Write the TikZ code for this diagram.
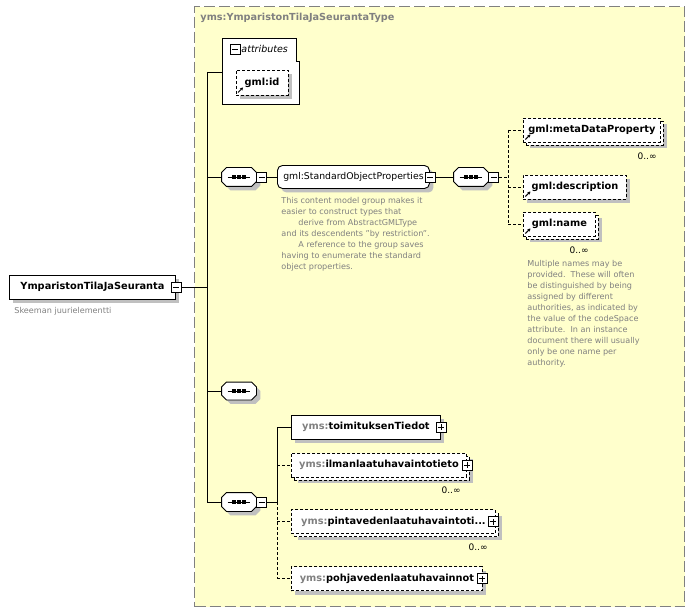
\documentclass[tikz,border=0pt]{standalone}
\usepackage{fontspec}
\setmainfont{DejaVu Sans}
\usetikzlibrary{positioning}
\usetikzlibrary{arrows.meta}
\usetikzlibrary{shadows}
\definecolor{typeyellow}{RGB}{255,255,204}
\definecolor{shadowgray}{RGB}{192,192,192}
\definecolor{framegray}{RGB}{128,128,128}
\definecolor{notegray}{RGB}{128,128,128}
\newcommand{\ymspre}{\textcolor{gray}{yms:}}
\newcommand{\seqshape}[1]{%
	\begin{scope}[transform canvas={shift={(4pt,-4pt)}}]
		\fill[shadowgray] ([xshift=5pt]#1.north west) -- ([xshift=-5pt]#1.north east) -- ([yshift=-5pt]#1.north east) -- ([yshift=5pt]#1.south east) -- ([xshift=-5pt]#1.south east) -- ([xshift=5pt]#1.south west) -- ([yshift=5pt]#1.south west) -- ([yshift=-5pt]#1.north west) -- cycle;
	\end{scope}
	\draw[fill=white] ([xshift=5pt]#1.north west) -- ([xshift=-5pt]#1.north east) -- ([yshift=-5pt]#1.north east) -- ([yshift=5pt]#1.south east) -- ([xshift=-5pt]#1.south east) -- ([xshift=5pt]#1.south west) -- ([yshift=5pt]#1.south west) -- ([yshift=-5pt]#1.north west) -- cycle;
	\draw ([xshift=6pt]#1.west) -- ([xshift=-6pt]#1.east);
	\foreach \d in {-5,0,5}
		\fill ([xshift=\d pt]#1.center) +(-1.6pt,-1.6pt) rectangle +(1.6pt,1.6pt);
}

\begin{document}
\begin{tikzpicture}[x=1pt, y=-1pt, line width=0.9pt]
	\tikzset{
		elemnode/.style={rectangle, draw=black, fill=white, minimum height=24pt, inner sep=0pt, text centered, font=\fontsize{9.8}{12}\selectfont\bfseries, drop shadow={shadow xshift=4pt, shadow yshift=-4pt, opacity=1, fill=shadowgray}},
		optnode/.style={elemnode, dash pattern=on 3pt off 2pt},
		multinode/.style={rectangle, draw=black, fill=white, minimum height=24pt, inner sep=0pt, text centered, font=\fontsize{9.8}{12}\selectfont\bfseries, dash pattern=on 3pt off 2pt, drop shadow={shadow xshift=7pt, shadow yshift=-6pt, opacity=1, fill=shadowgray}, copy shadow={shadow xshift=3pt, shadow yshift=-3pt, draw=black, fill=white, dash pattern=on 3pt off 2pt}},
		groupnode/.style={rectangle, rounded corners=5pt, draw=black, fill=white, minimum height=23pt, inner sep=0pt, text centered, font=\fontsize{9.3}{12}\selectfont, drop shadow={shadow xshift=4pt, shadow yshift=-4pt, opacity=1, fill=shadowgray}},
		seqnode/.style={rectangle, minimum width=34pt, minimum height=18pt, inner sep=0pt},
		minusbox/.style={rectangle, draw=black, fill=white, solid, minimum size=10pt, inner sep=0pt, line width=0.8pt,
			path picture={\draw[solid] ([xshift=2pt]path picture bounding box.west) -- ([xshift=-2pt]path picture bounding box.east);}},
		plusbox/.style={minusbox,
			path picture={\draw[solid] ([xshift=2pt]path picture bounding box.west) -- ([xshift=-2pt]path picture bounding box.east);
				\draw[solid] ([yshift=2pt]path picture bounding box.south) -- ([yshift=-2pt]path picture bounding box.north);}},
		refarrow/.style={path picture={\draw[solid, line width=1pt, -{Stealth[length=3pt, width=3.5pt]}] ([shift={(2pt,2.5pt)}]path picture bounding box.south west) -- ++(5pt,5pt);}},
		notetext/.style={inner sep=0pt, align=left, text=notegray, font=\fontsize{8.1}{11}\selectfont},
		countnode/.style={inner sep=0pt, font=\fontsize{9}{10}\selectfont},
		typebox/.style={rectangle, draw=framegray, fill=typeyellow, line width=1.2pt, dash pattern=on 11pt off 4pt},
		dashline/.style={dash pattern=on 3pt off 2pt},
	}
	\useasboundingbox (0,0) rectangle (693,612);

	\node[typebox, anchor=north west, minimum width=490pt, minimum height=600pt] (ymstype) at (194,6) {};
	\node[anchor=west, inner sep=0pt, text=framegray, font=\fontsize{9.7}{12}\selectfont\bfseries] (typename) at (200,18) {yms:YmparistonTilaJaSeurantaType};

	\node[elemnode, minimum width=166pt, anchor=west] (root) at (9,287) {YmparistonTilaJaSeuranta};
	\node[minusbox] (rootminus) at (root.east) {};
	\node[notetext, anchor=west] (rootnote) at (14,311) {Skeeman juurielementti};

	\draw[fill=white] (222,38) -- (296,38) -- (296,61) -- (299,61) -- (299,104) -- (222,104) -- cycle;
	\node[minusbox] (attrminus) at (235,49) {};
	\node[anchor=west, inner sep=0pt, font=\fontsize{9.5}{12}\selectfont\itshape] (attrlabel) at (241,49) {attributes};
	\coordinate (attrs) at (222,72);
	\node[optnode, refarrow, minimum width=52pt, minimum height=25pt] (gmlid) at (262,82.5) {gml:id};

	\coordinate (spinetop) at (207,72);

	\node[seqnode] (seq1) at (239,177) {};
	\seqshape{seq1}
	\node[minusbox, right=0pt of seq1] (seq1minus) {};
	\node[groupnode, minimum width=152pt, anchor=west] (sop) at (277,177) {gml:StandardObjectProperties};
	\node[minusbox] (sopminus) at (sop.east) {};
	\node[notetext, anchor=north west] (sopnote) at (281,197) {This content model group makes it\\easier to construct types that\\\hspace*{17pt}derive from AbstractGMLType\\and its descendents "by restriction".\\\hspace*{17pt}A reference to the group saves\\having to enumerate the standard\\object properties.};
	\node[seqnode] (seq2) at (471,177) {};
	\seqshape{seq2}
	\node[minusbox, right=0pt of seq2] (seq2minus) {};
	\coordinate (seq2fork) at (508,177);

	\node[multinode, refarrow, minimum width=137pt, anchor=west] (meta) at (523,130) {gml:metaDataProperty};
	\node[countnode, anchor=east] (metacount) at (657,156) {0..∞};
	\node[optnode, refarrow, minimum width=103pt, anchor=west] (desc) at (523,187) {gml:description};
	\node[multinode, refarrow, minimum width=72pt, anchor=west] (name) at (523,224) {gml:name};
	\node[countnode, anchor=east] (namecount) at (589,250) {0..∞};
	\node[notetext, anchor=north west] (namenote) at (527,260) {Multiple names may be\\provided.\ \ These will often\\be distinguished by being\\assigned by different\\authorities, as indicated by\\the value of the codeSpace\\attribute.\ \ In an instance\\document there will usually\\only be one name per\\authority.};

	\node[seqnode, minimum height=17pt] (seq3) at (239,391) {};
	\seqshape{seq3}

	\node[seqnode] (seq4) at (239,502) {};
	\seqshape{seq4}
	\node[minusbox, right=0pt of seq4] (seq4minus) {};
	\coordinate (seq4fork) at (277,502);

	\node[elemnode, minimum width=149pt, anchor=west] (toim) at (291,427) {\ymspre toimituksenTiedot};
	\node[plusbox] (toimplus) at (toim.east) {};
	\node[multinode, minimum width=175pt, anchor=west] (ilma) at (291,465) {\ymspre ilmanlaatuhavaintotieto};
	\node[plusbox] (ilmaplus) at (ilma.east) {};
	\node[countnode, anchor=east] (ilmacount) at (461,490) {0..∞};
	\node[multinode, minimum width=204pt, anchor=west] (pinta) at (291,521.5) {\ymspre pintavedenlaatuhavaintoti...};
	\node[plusbox] (pintaplus) at ([xshift=-3pt]pinta.east) {};
	\node[countnode, anchor=east] (pintacount) at (488,547) {0..∞};
	\node[optnode, minimum width=191pt, anchor=west] (pohja) at (291,578.5) {\ymspre pohjavedenlaatuhavainnot};
	\node[plusbox] (pohjaplus) at ([xshift=-1pt]pohja.east) {};

	\draw (rootminus.east) -- (rootminus.east -| spinetop);
	\draw (spinetop) -- (seq4.west -| spinetop);
	\draw (spinetop) -- (attrs);
	\draw (seq1.west -| spinetop) -- (seq1.west);
	\draw (seq3.west -| spinetop) -- (seq3.west);
	\draw (seq4.west -| spinetop) -- (seq4.west);

	\draw (seq1minus.east) -- (sop.west);
	\draw (sopminus.east) -- (seq2.west);
	\draw[dashline] (seq2minus.east) -- (seq2fork);
	\draw[dashline] (meta.west -| seq2fork) -- (name.west -| seq2fork);
	\draw[dashline] (meta.west -| seq2fork) -- (meta.west);
	\draw[dashline] (desc.west -| seq2fork) -- (desc.west);
	\draw[dashline] (name.west -| seq2fork) -- (name.west);

	\draw (seq4minus.east) -- (seq4fork);
	\draw (toim.west -| seq4fork) -- (seq4fork);
	\draw[dashline] (seq4fork) -- (pohja.west -| seq4fork);
	\draw (toim.west -| seq4fork) -- (toim.west);
	\draw[dashline] (ilma.west -| seq4fork) -- (ilma.west);
	\draw[dashline] (pinta.west -| seq4fork) -- (pinta.west);
	\draw[dashline] (pohja.west -| seq4fork) -- (pohja.west);
\end{tikzpicture}
\end{document}
